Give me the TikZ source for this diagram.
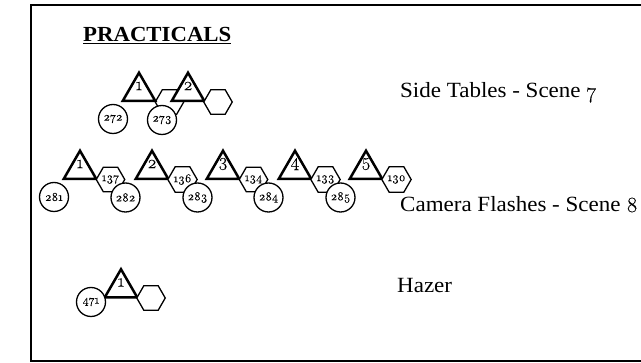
\documentclass[tikz,border=0pt]{standalone}
\usepackage{fontspec}
\setmainfont{Liberation Serif}[FakeStretch=1.06]
\newfontfamily\numfont{Latin Modern Roman}[Numbers=OldStyle,FakeBold=0.1]
\usetikzlibrary{shapes.geometric}
\newcommand\onum[1]{{\numfont #1}}

\begin{document}
\begin{tikzpicture}[x=1pt, y=-1pt, node distance=30pt]
  \tikzstyle{tri} = [regular polygon, regular polygon sides=3, draw, line width=2.5pt, fill=white,
                                    minimum size=37.5pt, inner sep=0pt]
  \tikzstyle{trinum} = [yshift=5.5pt, font=\fontsize{18}{18}\selectfont]
  \tikzstyle{hexa} = [regular polygon, regular polygon sides=6, draw, line width=1.3pt,
                                    fill=white, minimum size=28.5pt, inner sep=0pt, font=\fontsize{12}{12}\selectfont]
  \tikzstyle{disc} = [circle, draw, line width=1.3pt, fill=white, minimum size=29pt, inner sep=0pt,
                                    font=\fontsize{12}{12}\selectfont]
  \tikzstyle{caption} = [anchor=base west, inner sep=0pt, font=\fontsize{21.7}{21.7}\selectfont]
\useasboundingbox (0,0) rectangle (641,363);
\coordinate (frameA) at (641,5);
\coordinate (frameB) at (31,5);
\coordinate (frameC) at (31,361);
\coordinate (frameD) at (641,361);
\draw[line width=2.2pt] (frameA) -- (frameB) -- (frameC) -- (frameD);
\node[anchor=base west, inner sep=0pt, font=\fontsize{21.5}{21.5}\selectfont\bfseries](title) at (83,41.5){\underline{PRACTICALS}};
% side tables
\node[hexa](hex11) at (169.5,102){};
\node[tri, label={[trinum]center:\onum{1}}](tri11) at (139,91.5){};
\node[tri, right of=tri11, xshift=19pt, label={[trinum]center:\onum{2}}](tri12){};
\node[hexa, right of=tri12, yshift=-10.5pt](hex12){};
\node[disc](disc11) at (113,119){\onum{272}};
\node[disc](disc12) at (162,120){\onum{273}};
\node[caption](side) at (400,98){Side Tables - Scene \onum{7}};
% camera flashes
\foreach \num/\xa/\hexnum in {1/80/137, 2/152/136, 3/223/134, 4/295/133, 5/366/130}{
  \node[tri, label={[trinum]center:\onum{\num}}](tri2\num) at (\xa,169.5){};
  \node[hexa, right of=tri2\num, yshift=-10pt, xshift=.5pt](hex2\num){\onum{\hexnum}};
}
\node[disc](disc21) at (54,197){\onum{281}};
\node[disc, right of=hex21, xshift=-15pt, yshift=-18pt](disc22){\onum{282}};
\node[disc, right of=hex22, xshift=-15pt, yshift=-18pt](disc23){\onum{283}};
\node[disc, right of=hex23, xshift=-15pt, yshift=-18pt](disc24){\onum{284}};
\node[disc, right of=hex24, xshift=-15pt, yshift=-18pt](disc25){\onum{285}};
\node[caption](flash) at (400,212){Camera Flashes - Scene \onum{8}};
% hazer
\node[tri, label={[trinum]center:\onum{1}}](tri31) at (121,288){};
\node[hexa, right of=tri31, yshift=-10pt](hex31){};
\node[disc](disc31) at (91,302){\onum{471}};
\node[caption](hazer) at (397,293){Hazer};
\end{tikzpicture}
\end{document}
